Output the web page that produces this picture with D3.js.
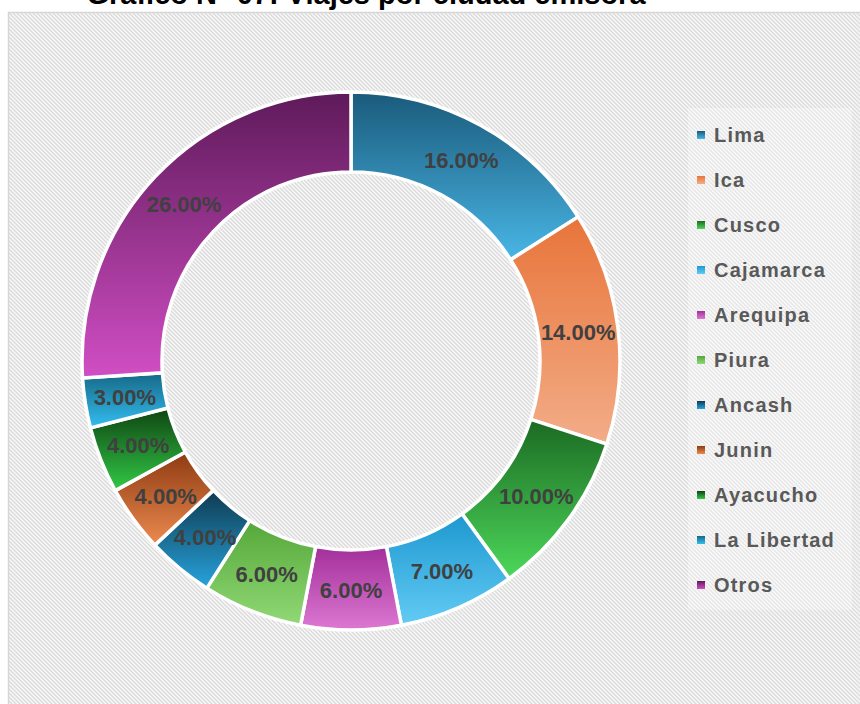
<!DOCTYPE html>
<html>
<head>
<meta charset="utf-8">
<script src="https://cdn.jsdelivr.net/npm/d3@7"></script>
<style>
  html, body { margin: 0; padding: 0; background: #ffffff; }
  svg { display: block; }
</style>
</head>
<body>
<svg id="chart" width="860" height="704"></svg>
<script>
// ---- data ----
const title = "Gráfico N° 07: Viajes por ciudad emisora";
const categories = ["Lima", "Ica", "Cusco", "Cajamarca", "Arequipa", "Piura", "Ancash", "Junin", "Ayacucho", "La Libertad", "Otros"];
const values = [16, 14, 10, 7, 6, 6, 4, 4, 4, 3, 26];
// ---- styles ----
const topColors = ["#1a5a7b", "#e8743a", "#1b6a22", "#1d98d0", "#a32f9b", "#55a739", "#0f3a50", "#8e3a12", "#0f4412", "#166886", "#5e1a5a"];
const bottomColors = ["#49b6e6", "#f3ad88", "#4dd85b", "#63cbf4", "#dc78d2", "#91d976", "#27a4dd", "#ec8b4f", "#32c946", "#33bef1", "#d14ec4"];

const W = 860, H = 704;
const svg = d3.select("#chart");
const defs = svg.append("defs");

// hatch background pattern
const pat = defs.append("pattern")
  .attr("id", "hatch").attr("patternUnits", "userSpaceOnUse")
  .attr("width", 4).attr("height", 4);
pat.append("rect").attr("width", 4).attr("height", 4).attr("fill", "#f8f8f8");
pat.append("path").attr("d", "M-1,-1 L5,5 M-1,3 L1,5 M3,-1 L5,1")
  .attr("stroke", "#dadada").attr("stroke-width", 1.3);

// slice gradients
categories.forEach((c, i) => {
  const g = defs.append("linearGradient").attr("id", "g" + i)
    .attr("x1", 0).attr("y1", 0).attr("x2", 0).attr("y2", 1);
  g.append("stop").attr("offset", "0%").attr("stop-color", topColors[i]);
  g.append("stop").attr("offset", "100%").attr("stop-color", bottomColors[i]);
});

// chart area
svg.append("rect").attr("x", 8.5).attr("y", 12.5).attr("width", W).attr("height", H)
  .attr("fill", "url(#hatch)").attr("stroke", "#d6d6d6").attr("stroke-width", 1.5);

// title (partially cut at top, as in the reference)
svg.append("text").attr("x", 366).attr("y", 4)
  .attr("text-anchor", "middle")
  .attr("font-family", "'Liberation Sans', Arial, sans-serif")
  .attr("font-weight", "bold").attr("font-size", 29).attr("fill", "#000")
  .text(title);

// donut
const cx = 351, cy = 361, rOuter = 269, rInner = 189;
const pie = d3.pie().sort(null).value(d => d.v);
const data = categories.map((c, i) => ({ c, v: values[i], i }));
const arcs = pie(data);
const arc = d3.arc().innerRadius(rInner).outerRadius(rOuter);
const labelArc = d3.arc().innerRadius((rInner + rOuter) / 2).outerRadius((rInner + rOuter) / 2);

const gD = svg.append("g").attr("transform", `translate(${cx},${cy})`);
gD.selectAll("path.slice").data(arcs).enter().append("path")
  .attr("class", "slice")
  .attr("d", arc)
  .attr("fill", d => `url(#g${d.data.i})`)
  .attr("stroke", "#ffffff").attr("stroke-width", 3.5).attr("stroke-linejoin", "miter");

const total = d3.sum(values);
gD.selectAll("text.lbl").data(arcs).enter().append("text")
  .attr("class", "lbl")
  .attr("transform", d => `translate(${labelArc.centroid(d)})`)
  .attr("text-anchor", "middle").attr("dy", "0.36em")
  .attr("font-family", "'Liberation Sans', Arial, sans-serif")
  .attr("font-weight", "bold").attr("font-size", 22).attr("fill", "#404040")
  .text(d => (d.data.v / total * 100).toFixed(2) + "%");

// legend
const legX = 697, legY0 = 135, legStep = 45;
svg.append("rect").attr("x", 688).attr("y", 108).attr("width", 164).attr("height", 502)
  .attr("fill", "#ffffff").attr("opacity", 0.3);
const leg = svg.append("g");
const li = leg.selectAll("g").data(data).enter().append("g")
  .attr("transform", (d, i) => `translate(${legX},${legY0 + i * legStep})`);
li.append("rect").attr("x", 0).attr("y", -4).attr("width", 8).attr("height", 8)
  .attr("fill", d => `url(#g${d.i})`);
li.append("text").attr("x", 17).attr("dy", "0.36em")
  .attr("font-family", "'Liberation Sans', Arial, sans-serif")
  .attr("font-weight", "bold").attr("font-size", 20).attr("letter-spacing", "1.2px")
  .attr("fill", "#595959")
  .text(d => d.c);
</script>
</body>
</html>
